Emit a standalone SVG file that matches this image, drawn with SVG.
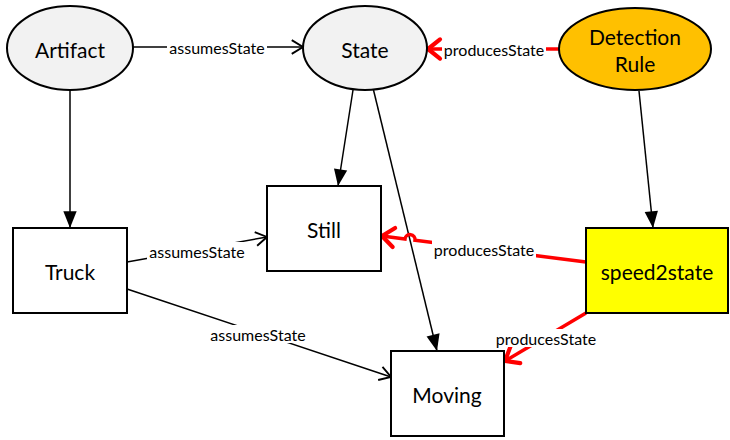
<svg xmlns="http://www.w3.org/2000/svg" width="730" height="440" viewBox="0 0 730 440">
  <style>
    .node { stroke: #000; stroke-width: 2; }
    .ell { fill: #f2f2f2; }
    .box { fill: #fff; }
    .nlabel { font-family: Lato, "Liberation Sans", sans-serif; font-size: 21px; fill: #000; text-anchor: middle; dominant-baseline: central; }
    .elabel { font-family: Lato, "Liberation Sans", sans-serif; font-size: 16px; fill: #000; text-anchor: middle; dominant-baseline: central; }
    .edge { fill: none; stroke: #000; stroke-width: 1.5; }
    .red { fill: none; stroke: #ff0000; stroke-width: 3.5; }
    .lbg { fill: #fff; }
  </style>
  <defs>
    <marker id="open" markerUnits="userSpaceOnUse" markerWidth="20" markerHeight="20" viewBox="-12 -8 14 16" refX="0" refY="0" orient="auto" overflow="visible">
      <path d="M -9 -5.5 L 0 0 L -9 5.5" fill="none" stroke="#000" stroke-width="1.5"/>
    </marker>
    <marker id="solid" markerUnits="userSpaceOnUse" markerWidth="20" markerHeight="20" viewBox="-16 -8 18 16" refX="0" refY="0" orient="auto" overflow="visible">
      <path d="M -15 -6 L 0 0 L -15 6 Z" fill="#000" stroke="none"/>
    </marker>
    <marker id="redopen" markerUnits="userSpaceOnUse" markerWidth="24" markerHeight="24" viewBox="-14 -10 16 20" refX="0" refY="0" orient="auto" overflow="visible">
      <path d="M -10 -8 L 0 0 L -10 8" fill="none" stroke="#ff0000" stroke-width="3.5" stroke-linecap="round" stroke-linejoin="round"/>
    </marker>
  </defs>

  <g id="connectors">
    <!-- Artifact -> State -->
    <line class="edge" x1="133" y1="47" x2="303" y2="47" marker-end="url(#open)"/>
    <rect class="lbg" x="167" y="38" width="100" height="18"/>
    <text class="elabel" x="217" y="47">assumesState</text>

    <!-- Artifact -> Truck -->
    <line class="edge" x1="70" y1="90" x2="70" y2="228" marker-end="url(#solid)"/>

    <!-- State -> Still -->
    <line class="edge" x1="353" y1="90" x2="338" y2="186" marker-end="url(#solid)"/>

    <!-- State -> Moving -->
    <line class="edge" x1="373.5" y1="90" x2="437" y2="351" marker-end="url(#solid)"/>

    <!-- Detection Rule -> speed2state -->
    <line class="edge" x1="639" y1="91" x2="653" y2="228" marker-end="url(#solid)"/>

    <!-- Detection Rule -> State -->
    <line class="red" x1="559" y1="49" x2="428" y2="49" marker-end="url(#redopen)"/>
    <rect class="lbg" x="442" y="40" width="104" height="18"/>
    <text class="elabel" x="494" y="49">producesState</text>

    <!-- speed2state -> Still, hopping over State -> Moving -->
    <path class="red" d="M 586 262 L 415 240.3 A 5 5 0 0 0 405 239 L 382 236" marker-end="url(#redopen)"/>
    <rect class="lbg" x="432" y="240" width="104" height="18"/>
    <text class="elabel" x="484" y="249">producesState</text>

    <!-- speed2state -> Moving -->
    <line class="red" x1="586" y1="313" x2="505" y2="361" marker-end="url(#redopen)"/>
    <rect class="lbg" x="494" y="329" width="104" height="18"/>
    <text class="elabel" x="546" y="338">producesState</text>

    <!-- Truck -> Still -->
    <line class="edge" x1="127" y1="262" x2="267" y2="237" marker-end="url(#open)"/>
    <rect class="lbg" x="147" y="242" width="100" height="18"/>
    <text class="elabel" x="197" y="251">assumesState</text>

    <!-- Truck -> Moving -->
    <line class="edge" x1="127" y1="289" x2="391" y2="377" marker-end="url(#open)"/>
    <rect class="lbg" x="208" y="325" width="100" height="18"/>
    <text class="elabel" x="258" y="334">assumesState</text>
  </g>

  <g id="artifact">
    <ellipse class="node ell" cx="70" cy="48" rx="63" ry="42"/>
    <text class="nlabel" x="70" y="49">Artifact</text>
  </g>
  <g id="state">
    <ellipse class="node ell" cx="365" cy="48" rx="62" ry="42"/>
    <text class="nlabel" x="365" y="49">State</text>
  </g>
  <g id="detection-rule">
    <ellipse class="node" cx="635" cy="49" rx="76" ry="41" fill="#ffc000"/>
    <text class="nlabel" x="635" y="36">Detection</text>
    <text class="nlabel" x="635" y="63">Rule</text>
  </g>
  <g id="still">
    <rect class="node box" x="267" y="186" width="114" height="85"/>
    <text class="nlabel" x="324" y="229">Still</text>
  </g>
  <g id="truck">
    <rect class="node box" x="13" y="228" width="114" height="85"/>
    <text class="nlabel" x="70" y="271">Truck</text>
  </g>
  <g id="speed2state">
    <rect class="node" x="586" y="228" width="142" height="85" fill="#ffff00"/>
    <text class="nlabel" x="657" y="271">speed2state</text>
  </g>
  <g id="moving">
    <rect class="node box" x="391" y="351" width="113" height="85"/>
    <text class="nlabel" x="447" y="394">Moving</text>
  </g>
</svg>
